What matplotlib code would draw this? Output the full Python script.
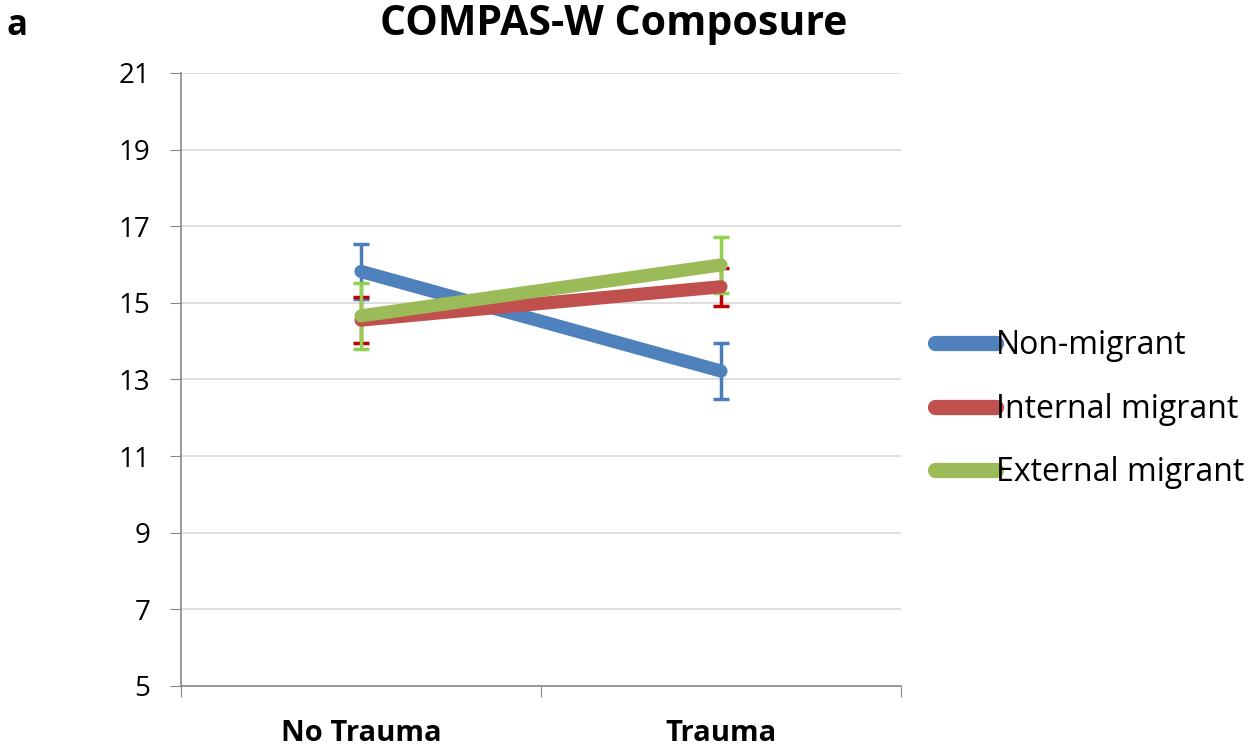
import matplotlib.pyplot as plt

categories = ["No Trauma", "Trauma"]
series = ["Non-migrant", "Internal migrant", "External migrant"]
means = {
    "Non-migrant": [15.82, 13.22],
    "Internal migrant": [14.55, 15.42],
    "External migrant": [14.66, 15.99],
}
errors = {
    "Non-migrant": [0.72, 0.74],
    "Internal migrant": [0.6, 0.5],
    "External migrant": [0.87, 0.73],
}
line_colors = ["#4F81BD", "#C0504D", "#9BBB59"]
err_colors = ["#4A7EBB", "#C00000", "#92D050"]

plt.rcParams['font.family'] = ['Open Sans', 'DejaVu Sans']

fig = plt.figure(figsize=(12.52, 7.51), dpi=100)
ax = fig.add_axes([0.1446, 0.0866, 0.575, 0.8162])

x = [0.5, 1.5]
for name, lc, ec in zip(series, line_colors, err_colors):
    ax.errorbar(x, means[name], yerr=errors[name], fmt="none", ecolor=ec,
                elinewidth=2.5, capsize=6, capthick=2.5, zorder=3)
    ax.plot(x, means[name], color=lc, lw=9.5, solid_capstyle="round",
            label=name, zorder=4)

ax.set_xlim(0, 2)
ax.set_ylim(5, 21)
ax.set_yticks(range(5, 22, 2))
ax.set_xticks([0, 1, 2])
ax.set_xticklabels([])
ax.set_xticks(x, minor=True)
ax.set_xticklabels(categories, minor=True, fontsize=21, fontweight="bold")
ax.tick_params(axis="x", which="minor", length=0, pad=24)
ax.tick_params(axis="x", which="major", length=8, color="#888888", direction="out")
ax.tick_params(axis="y", length=8, color="#888888", labelsize=20, pad=14)
ax.grid(axis="y", color="#D9D9D9", lw=1.2)
ax.set_axisbelow(True)
for s in ["top", "right"]:
    ax.spines[s].set_visible(False)
for s in ["left", "bottom"]:
    ax.spines[s].set_color("#888888")
    ax.spines[s].set_linewidth(1.2)

fig.text(0.49, 0.968, "COMPAS-W Composure", fontsize=29.5, fontweight="bold",
         ha="center", va="center")
fig.text(0.005, 0.965, "a", fontsize=25, fontweight="bold", va="center")

leg = ax.legend(loc="center left", bbox_to_anchor=(935 / 1252, 0.455),
                bbox_transform=fig.transFigure, frameon=False, fontsize=23,
                handlelength=1.9, handletextpad=0.0, labelspacing=0.95,
                borderpad=0, borderaxespad=0)
for h in leg.get_lines():
    h.set_linewidth(11)

fig.savefig("out.png", dpi=100)
